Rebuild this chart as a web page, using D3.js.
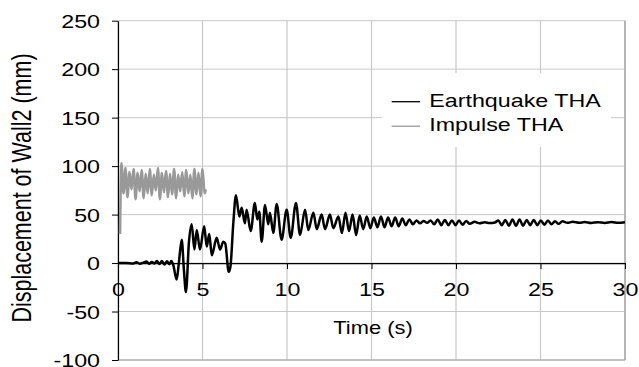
<!DOCTYPE html>
<html>
<head>
<meta charset="utf-8">
<script src="https://cdn.jsdelivr.net/npm/d3@7"></script>
<style>
  body { margin: 0; background: #fff; }
</style>
</head>
<body>
<div id="chart"></div>
<script>
const xTicks = [0, 5, 10, 15, 20, 25, 30];
const yTicks = [-100, -50, 0, 50, 100, 150, 200, 250];
const seriesNames = ["Earthquake THA", "Impulse THA"];
const seriesColors = ["#000000", "#999999"];

// [time (s), displacement (mm)]
const earthquakeTHA = [
  [0, 0], [0.5, 0], [0.9, -0.5], [1.1, 0.8], [1.3, -0.6], [1.5, 0.5], [1.7, 1.5], [1.85, -0.8],
  [2.0, 1.2], [2.15, -0.5], [2.3, 2.0], [2.45, -1.0], [2.6, 2.2], [2.75, -1.5], [2.9, 1.8],
  [3.05, -1.2], [3.15, 2.0], [3.27, -2], [3.47, -17], [3.6, 0], [3.77, 24], [3.9, -7],
  [4.02, -30], [4.2, 22], [4.36, 40], [4.52, 14], [4.66, 34], [4.85, 14], [5.1, 38], [5.25, 17],
  [5.4, 30], [5.55, 8], [5.84, 26], [6.04, 14], [6.23, 22], [6.35, 20], [6.55, -9], [6.65, -4],
  [6.83, 43], [6.98, 70], [7.18, 48], [7.32, 57], [7.51, 41], [7.61, 55], [7.85, 33], [8.1, 62],
  [8.24, 45], [8.36, 53], [8.5, 22], [8.7, 60], [8.89, 40], [8.99, 52], [9.19, 31], [9.39, 61],
  [9.68, 24], [9.98, 55], [10.22, 26], [10.53, 62], [10.77, 29], [11.07, 55], [11.26, 34],
  [11.56, 52], [11.76, 35], [12.05, 50], [12.25, 35], [12.54, 50], [12.74, 36], [13.04, 48],
  [13.25, 31], [13.46, 52], [13.67, 33], [13.88, 50], [14.09, 29], [14.3, 49], [14.51, 35],
  [14.72, 48], [14.93, 36], [15.14, 47], [15.35, 37], [15.56, 48], [15.77, 37], [15.98, 47],
  [16.19, 38], [16.4, 47], [16.61, 38], [16.82, 46], [17.03, 39], [17.24, 45], [17.45, 40],
  [17.66, 44], [17.87, 41], [18.08, 43.5], [18.29, 41.5], [18.5, 44], [18.71, 40], [18.92, 45],
  [19.13, 39], [19.34, 44.5], [19.55, 39], [19.76, 44], [19.97, 39], [20.18, 44], [20.39, 39.5],
  [20.6, 43.5], [20.81, 40.5], [21.1, 42.5], [21.4, 41], [21.7, 42], [22.0, 41.2], [22.3, 41.8],
  [22.5, 44], [22.71, 39], [22.92, 44.5], [23.13, 38.5], [23.34, 45], [23.55, 38.5], [23.76, 45],
  [23.97, 38.5], [24.18, 44.5], [24.39, 39], [24.6, 44.5], [24.81, 39], [25.02, 44], [25.23, 39.5],
  [25.44, 44], [25.65, 40], [25.86, 43], [26.07, 40.5], [26.3, 43], [26.6, 41.5], [26.9, 42.5],
  [27.3, 41.5], [27.6, 42.3], [28.0, 41.3], [28.4, 42.2], [28.8, 41.4], [29.2, 42.3], [29.6, 41.6],
  [30, 42.2]
];

const impulseTHA = [
  [0.12, 30], [0.2, 103], [0.32, 72], [0.44, 98], [0.56, 68], [0.68, 94], [0.8, 76], [0.92, 97],
  [1.04, 66], [1.16, 93], [1.28, 74], [1.4, 96], [1.52, 67], [1.64, 92], [1.76, 72], [1.88, 97],
  [2.0, 70], [2.12, 91], [2.24, 75], [2.36, 98], [2.48, 66], [2.6, 93], [2.72, 73], [2.84, 95],
  [2.96, 68], [3.08, 92], [3.2, 71], [3.32, 97], [3.44, 67], [3.56, 91], [3.68, 74], [3.8, 94],
  [3.92, 69], [4.04, 96], [4.16, 72], [4.28, 91], [4.4, 67], [4.52, 97], [4.64, 71], [4.76, 93],
  [4.88, 69], [5.0, 97], [5.12, 72], [5.2, 76]
];

const width = 639, height = 367;
const plotLeft = 118, plotRight = 625, plotTop = 20.7, plotBottom = 360;
const stretch = 1.25;   // glyphs in the picture are wider than tall
const fontSize = 18.6;
const font = '"Liberation Sans", Arial, sans-serif';

const svg = d3.select("#chart")
  .append("svg")
  .attr("width", width)
  .attr("height", height)
  .style("display", "block");

const x = d3.scaleLinear().domain([0, 30]).range([plotLeft, plotRight]);
const y = d3.scaleLinear().domain([-100, 250]).range([plotBottom, plotTop]);

// grid
svg.append("g")
  .selectAll("line")
  .data(yTicks)
  .enter()
  .append("line")
  .attr("x1", plotLeft).attr("x2", plotRight)
  .attr("y1", d => y(d)).attr("y2", d => y(d))
  .attr("stroke", "#c8c8c8")
  .attr("stroke-width", 1);

svg.append("g")
  .selectAll("line")
  .data(xTicks)
  .enter()
  .append("line")
  .attr("x1", d => x(d)).attr("x2", d => x(d))
  .attr("y1", plotTop).attr("y2", plotBottom)
  .attr("stroke", "#c8c8c8")
  .attr("stroke-width", 1.2);

// plot border right and bottom
svg.append("line")
  .attr("x1", plotRight).attr("x2", plotRight).attr("y1", plotTop).attr("y2", plotBottom)
  .attr("stroke", "#a0a0a0").attr("stroke-width", 1.3);
svg.append("line")
  .attr("x1", plotLeft).attr("x2", plotRight).attr("y1", plotBottom).attr("y2", plotBottom)
  .attr("stroke", "#a0a0a0").attr("stroke-width", 1);

// legend background hides the grid
svg.append("rect")
  .attr("x", 382).attr("y", 73)
  .attr("width", 229).attr("height", 74)
  .attr("fill", "#fff");

// axes, plain hyphen for negatives like the picture
const plain = d => String(d);

const yAxis = svg.append("g")
  .attr("transform", `translate(${plotLeft},0)`)
  .call(d3.axisLeft(y).tickValues(yTicks).tickFormat(plain).tickSize(6).tickSizeOuter(0));

yAxis.selectAll("text")
  .attr("x", -18 / stretch)
  .attr("dy", "0.36em")
  .attr("transform", `scale(${stretch},1)`);

const xAxis = svg.append("g")
  .attr("transform", `translate(0,${y(0)})`)
  .call(d3.axisBottom(x).tickValues(xTicks).tickFormat(plain).tickSize(6).tickSizeOuter(0));

xAxis.selectAll("text")
  .attr("y", 296 - y(0))
  .attr("dy", 0)
  .attr("transform", `scale(${stretch},1)`);

[yAxis, xAxis].forEach(g => {
  g.attr("font-size", fontSize).attr("font-family", font);
  g.selectAll("text").attr("fill", "#000");
  g.selectAll("line").attr("stroke", "#000");
  g.select(".domain").attr("stroke", "#000").attr("stroke-width", 1.2);
});

// series
const line = d3.line()
  .x(d => x(d[0]))
  .y(d => y(d[1]))
  .curve(d3.curveMonotoneX);

svg.append("path")
  .datum(earthquakeTHA)
  .attr("d", line)
  .attr("fill", "none")
  .attr("stroke", seriesColors[0])
  .attr("stroke-width", 2.5)
  .attr("stroke-linejoin", "round");

svg.append("path")
  .datum(impulseTHA)
  .attr("d", line)
  .attr("fill", "none")
  .attr("stroke", seriesColors[1])
  .attr("stroke-width", 2.6)
  .attr("stroke-linejoin", "round");

// axis titles
svg.append("text")
  .attr("transform", `translate(373,334) scale(${stretch},1)`)
  .attr("text-anchor", "middle")
  .attr("font-family", font)
  .attr("font-size", 17.5)
  .text("Time (s)");

svg.append("text")
  .attr("transform", `translate(31,188) scale(${stretch},1) rotate(-90)`)
  .attr("text-anchor", "middle")
  .attr("font-family", font)
  .attr("font-size", 21.5)
  .text("Displacement of Wall2 (mm)");

// legend
const legend = svg.append("g");
seriesNames.forEach((name, i) => {
  const ly = 101.7 + i * 24.5;
  legend.append("line")
    .attr("x1", 391.7).attr("x2", 420)
    .attr("y1", ly).attr("y2", ly)
    .attr("stroke", seriesColors[i])
    .attr("stroke-width", 1.3);
  legend.append("text")
    .attr("transform", `translate(429.3,${ly + 5}) scale(${stretch},1)`)
    .attr("font-family", font)
    .attr("font-size", fontSize)
    .text(name);
});
</script>
</body>
</html>
